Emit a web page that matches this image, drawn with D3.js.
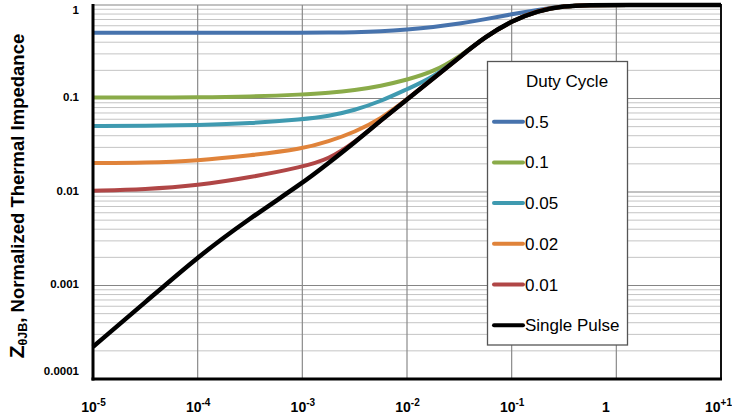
<!DOCTYPE html>
<html><head><meta charset="utf-8">
<script src="https://cdn.jsdelivr.net/npm/d3@7"></script>
<style>body{margin:0;background:#fff}svg{display:block}text{font-family:"Liberation Sans",Arial,sans-serif}</style>
</head><body>
<svg id="c" width="732" height="418"></svg>
<script>
// ---- data ----
const times = [1e-5, 3.16e-5, 1e-4, 3.16e-4, 1e-3, 1.78e-3, 3.16e-3, 5.62e-3, 1e-2, 1.78e-2, 3.16e-2, 5.62e-2, 1e-1, 0.178, 0.316, 0.562, 1, 10];
const duty05  = [0.506, 0.506, 0.506, 0.506, 0.506, 0.507, 0.5105, 0.5212, 0.5458, 0.5794, 0.631, 0.7047, 0.798, 0.887, 0.977, 1, 1, 1];
const duty01  = [0.1023, 0.1023, 0.1028, 0.1047, 0.1102, 0.1148, 0.1225, 0.1361, 0.1585, 0.1928, 0.278, 0.459, 0.676, 0.871, 0.977, 1, 1, 1];
const duty005 = [0.0508, 0.0508, 0.0521, 0.0542, 0.0598, 0.0646, 0.075, 0.0933, 0.1259, 0.168, 0.2754, 0.459, 0.676, 0.871, 0.977, 1, 1, 1];
const duty002 = [0.0204, 0.02056, 0.02163, 0.02455, 0.02884, 0.0347, 0.0437, 0.0605, 0.0977, 0.164, 0.2754, 0.459, 0.676, 0.871, 0.977, 1, 1, 1];
const duty001 = [0.0103, 0.01067, 0.01175, 0.01429, 0.01854, 0.0224, 0.0339, 0.0582, 0.0977, 0.164, 0.2754, 0.459, 0.676, 0.871, 0.977, 1, 1, 1];
const singlePulse = [0.000221, 0.000661, 0.00203, 0.00525, 0.0124, 0.0204, 0.0339, 0.0582, 0.0977, 0.164, 0.2754, 0.459, 0.676, 0.871, 0.977, 1, 1, 1];
const seriesNames = ["0.5", "0.1", "0.05", "0.02", "0.01", "Single Pulse"];
const seriesValues = [duty05, duty01, duty005, duty002, duty001, singlePulse];
const seriesColors = ["#4773ad", "#8aab49", "#3f9ab0", "#e0833a", "#b04646", "#000000"];
const xTickValues = [1e-5, 1e-4, 1e-3, 1e-2, 1e-1, 1, 10];
const xTickBase = ["10", "10", "10", "10", "10", "1", "10"];
const xTickExp  = ["-5", "-4", "-3", "-2", "-1", "", "+1"];
const yTickValues = [1e-4, 1e-3, 1e-2, 1e-1, 1];
const yTickLabels = ["0.0001", "0.001", "0.01", "0.1", "1"];
const legendTitle = "Duty Cycle";
const yTitleMain = "Z", yTitleSub = "θJB", yTitleRest = ", Normalized Thermal Impedance";

// ---- layout ----
const svg = d3.select("#c");
const L = 93, R = 721, T = 5, B = 379;
const x = d3.scaleLog().domain([1e-5, 10]).range([L, R]);
const y = d3.scaleLog().domain([1e-4, 1]).range([B, T]);

// minor horizontal gridlines
const minor = [];
for (let e = -4; e < 0; e++) for (let m = 2; m <= 9; m++) minor.push(m * Math.pow(10, e));
svg.append("g").selectAll("line").data(minor).join("line")
  .attr("x1", L).attr("x2", R).attr("y1", d => y(d)).attr("y2", d => y(d))
  .attr("stroke", "#c4c4c4").attr("stroke-width", 1);
// major horizontal
svg.append("g").selectAll("line").data(yTickValues).join("line")
  .attr("x1", L).attr("x2", R).attr("y1", d => y(d)).attr("y2", d => y(d))
  .attr("stroke", "#858585").attr("stroke-width", 1.2);
// major vertical
svg.append("g").selectAll("line").data(xTickValues).join("line")
  .attr("y1", T).attr("y2", B).attr("x1", d => x(d)).attr("x2", d => x(d))
  .attr("stroke", "#8a8a8a").attr("stroke-width", 1.2);

// right border
svg.append("line").attr("x1", R).attr("x2", R).attr("y1", T - 1).attr("y2", B)
  .attr("stroke", "#111").attr("stroke-width", 2);

// curves
const line = d3.line().x(d => x(d[0])).y(d => y(d[1])).curve(d3.curveBasis);
seriesValues.forEach((vals, i) => {
  svg.append("path").datum(times.map((t, j) => [t, vals[j]]))
    .attr("d", line).attr("fill", "none")
    .attr("stroke", seriesColors[i]).attr("stroke-width", i === 5 ? 4.5 : 4)
    .attr("stroke-linejoin", "round").attr("stroke-linecap", "butt");
});

// axes lines (left & bottom, thick black)
svg.append("line").attr("x1", L).attr("x2", L).attr("y1", T - 1).attr("y2", B + 1.5)
  .attr("stroke", "#000").attr("stroke-width", 3);
svg.append("line").attr("x1", L - 1.5).attr("x2", R + 1).attr("y1", B).attr("y2", B)
  .attr("stroke", "#000").attr("stroke-width", 3);

// x axis labels
const xAxis = d3.axisBottom(x).tickValues(xTickValues).tickSize(0).tickFormat("");
const gx = svg.append("g").attr("transform", `translate(0,${B})`).call(xAxis);
gx.select(".domain").remove();
gx.selectAll(".tick").each(function(d, i) {
  const last = i === xTickValues.length - 1;
  const dx = xTickExp[i] ? (last ? -3 : 0) : -11;
  const t = d3.select(this).append("text").attr("x", dx).attr("y", 33).attr("text-anchor", "middle")
    .attr("fill", "#000").attr("font-size", 14).attr("font-weight", "bold");
  t.append("tspan").text(xTickBase[i]);
  if (xTickExp[i]) t.append("tspan").attr("dy", -6).attr("font-size", 10).text(xTickExp[i]);
});

// y axis labels
const yAxis = d3.axisLeft(y).tickValues(yTickValues).tickSize(0).tickFormat((d, i) => yTickLabels[i]);
const gy = svg.append("g").attr("transform", `translate(79,0)`).call(yAxis);
gy.select(".domain").remove();
gy.selectAll(".tick").attr("transform", d => `translate(0,${Math.min(371, Math.max(10, y(d) - 1.5))})`);
gy.selectAll(".tick text").attr("x", 0).attr("dy", "0.35em").attr("fill", "#000")
  .attr("font-size", 11.5).attr("font-weight", "bold")
  .attr("font-family", '"Liberation Sans",Arial,sans-serif');

// y title
const yt = svg.append("text").attr("transform", "translate(24,196) rotate(-90)")
  .attr("text-anchor", "middle").attr("font-size", 18.5).attr("font-weight", "bold").attr("fill", "#000");
yt.append("tspan").attr("font-size", 21).text(yTitleMain);
yt.append("tspan").attr("font-size", 12.5).attr("dy", 3).text(yTitleSub);
yt.append("tspan").attr("dy", -3).text(yTitleRest);

// legend
const lg = svg.append("g");
lg.append("rect").attr("x", 487.5).attr("y", 61.5).attr("width", 140).attr("height", 283.5)
  .attr("fill", "#fff").attr("stroke", "#555").attr("stroke-width", 1.3);
lg.append("text").attr("x", 567).attr("y", 86.5).attr("text-anchor", "middle")
  .attr("font-size", 17).attr("fill", "#000").text(legendTitle);
seriesNames.forEach((n, i) => {
  const cy = 121.7 + i * 40.7;
  lg.append("line").attr("x1", 494).attr("x2", 523).attr("y1", cy).attr("y2", cy)
    .attr("stroke", seriesColors[i]).attr("stroke-width", 4).attr("stroke-linecap", "round");
  lg.append("text").attr("x", 525).attr("y", cy + 6).attr("font-size", 17).attr("fill", "#000").text(n);
});
</script>
</body></html>
